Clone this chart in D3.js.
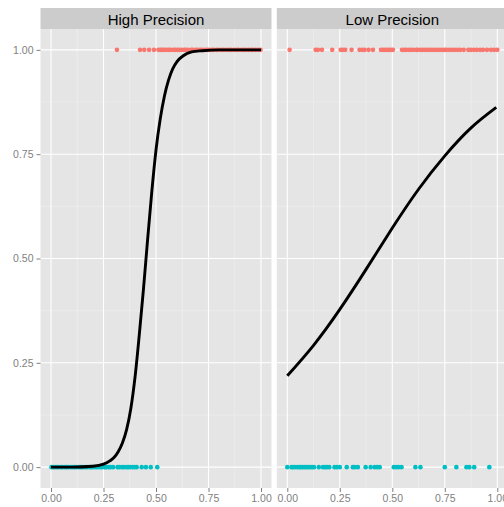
<!DOCTYPE html>
<html>
<head>
<meta charset="utf-8">
<script src="https://cdn.jsdelivr.net/npm/d3@7"></script>
<style>
  body { margin: 0; background: #fff; }
  text { font-family: "Liberation Sans", Arial, sans-serif; }
</style>
</head>
<body>
<script>
// panel names
var panels = ['High Precision', 'Low Precision']

// x positions of points with outcome 1 (red) and 0 (teal)
var highOnes = [0.314, 0.424, 0.444, 0.467, 0.490, 0.512, 0.521, 0.528, 0.537, 0.545, 0.556, 0.563, 0.571, 0.584, 0.592,
  0.603, 0.611, 0.622, 0.634, 0.641, 0.652, 0.667, 0.675, 0.688, 0.697, 0.709, 0.718, 0.731, 0.744, 0.752, 0.766,
  0.775, 0.789, 0.798, 0.812, 0.823, 0.836, 0.847, 0.858, 0.871, 0.884, 0.893, 0.907, 0.918, 0.929, 0.941, 0.953,
  0.962, 0.974, 0.986, 0.998]
var highZeros = [0.002, 0.011, 0.019, 0.028, 0.036, 0.047, 0.055, 0.066, 0.074, 0.083, 0.095, 0.104, 0.113, 0.121,
  0.133, 0.142, 0.151, 0.163, 0.172, 0.184, 0.192, 0.201, 0.213, 0.222, 0.234, 0.243, 0.255, 0.263, 0.275, 0.284,
  0.296, 0.317, 0.326, 0.338, 0.347, 0.359, 0.368, 0.377, 0.389, 0.398, 0.408, 0.432, 0.452, 0.475, 0.506]
var lowOnes = [0.011, 0.135, 0.146, 0.165, 0.214, 0.254, 0.265, 0.276, 0.306, 0.344, 0.357, 0.368, 0.387, 0.408,
  0.446, 0.456, 0.466, 0.476, 0.486, 0.496, 0.503, 0.546, 0.556, 0.566, 0.578, 0.589, 0.600, 0.614, 0.621, 0.634,
  0.645, 0.657, 0.668, 0.679, 0.690, 0.702, 0.714, 0.726, 0.738, 0.750, 0.757, 0.770, 0.784, 0.797, 0.810, 0.823,
  0.840, 0.862, 0.874, 0.889, 0.903, 0.918, 0.932, 0.951, 0.970, 0.985, 1.000]
var lowZeros = [0.000, 0.020, 0.027, 0.036, 0.048, 0.057, 0.064, 0.073, 0.082, 0.091, 0.099, 0.108, 0.118, 0.127,
  0.150, 0.170, 0.180, 0.189, 0.200, 0.225, 0.236, 0.250, 0.283, 0.312, 0.322, 0.336, 0.373, 0.397, 0.416, 0.428,
  0.440, 0.507, 0.518, 0.530, 0.544, 0.610, 0.634, 0.750, 0.805, 0.853, 0.867, 0.890, 0.962]

// fitted curves
var highCurveX = [0.00, 0.10, 0.20, 0.25, 0.28, 0.30, 0.32, 0.34, 0.36, 0.38, 0.40, 0.42, 0.44, 0.46, 0.48, 0.50,
  0.52, 0.54, 0.56, 0.58, 0.60, 0.63, 0.67, 0.72, 0.80, 1.00]
var highCurveY = [0.000, 0.000, 0.002, 0.007, 0.015, 0.023, 0.037, 0.058, 0.090, 0.140, 0.215, 0.315, 0.425, 0.545,
  0.660, 0.760, 0.834, 0.889, 0.928, 0.955, 0.972, 0.986, 0.995, 0.998, 1.000, 1.000]
var lowCurveX = [0.000, 0.125, 0.250, 0.375, 0.500, 0.625, 0.750, 0.875, 0.995]
var lowCurveY = [0.219, 0.292, 0.378, 0.474, 0.573, 0.666, 0.746, 0.813, 0.862]

var ticks = [0, 0.25, 0.5, 0.75, 1]
var minorTicks = [0.125, 0.375, 0.625, 0.875]

var width = 504, height = 507
var panelW = 231, panelTop = 29, panelBottom = 488
var panelLeft = [40.5, 276.8]

function toPoints(xs, ys) {
  return xs.map(function (x, i) { return { x: x, y: ys[i] } })
}

var panelData = [
  { ones: highOnes, zeros: highZeros, curve: toPoints(highCurveX, highCurveY), interp: d3.curveMonotoneX },
  { ones: lowOnes, zeros: lowZeros, curve: toPoints(lowCurveX, lowCurveY), interp: d3.curveNatural }
]

var svg = d3.select('body')
  .append('svg')
  .attr('width', width)
  .attr('height', height)

var xScale = d3.scaleLinear().domain([-0.05, 1.05]).range([0, panelW])
var yScale = d3.scaleLinear().domain([-0.05, 1.05]).range([panelBottom, panelTop])

panels.forEach(function (name, i) {
  var d = panelData[i]
  var g = svg.append('g')
    .attr('transform', 'translate(' + panelLeft[i] + ',0)')

  //strip
  g.append('rect')
    .attr('x', 0).attr('y', 8)
    .attr('width', panelW).attr('height', panelTop - 8)
    .attr('fill', '#cccccc')
  g.append('text')
    .attr('x', panelW / 2)
    .attr('y', 24.5)
    .attr('text-anchor', 'middle')
    .style('font-size', '15px')
    .attr('fill', '#000')
    .text(name)

  //background
  g.append('rect')
    .attr('x', 0).attr('y', panelTop)
    .attr('width', panelW).attr('height', panelBottom - panelTop)
    .attr('fill', '#e5e5e5')

  //minor grid
  g.selectAll('.minx').data(minorTicks).enter().append('line')
    .attr('x1', function (t) { return xScale(t) }).attr('x2', function (t) { return xScale(t) })
    .attr('y1', panelTop).attr('y2', panelBottom)
    .attr('stroke', '#f2f2f2').attr('stroke-width', 0.5)
  g.selectAll('.miny').data(minorTicks).enter().append('line')
    .attr('y1', function (t) { return yScale(t) }).attr('y2', function (t) { return yScale(t) })
    .attr('x1', 0).attr('x2', panelW)
    .attr('stroke', '#f2f2f2').attr('stroke-width', 0.5)

  //major grid
  g.selectAll('.majx').data(ticks).enter().append('line')
    .attr('x1', function (t) { return xScale(t) }).attr('x2', function (t) { return xScale(t) })
    .attr('y1', panelTop).attr('y2', panelBottom)
    .attr('stroke', '#fff').attr('stroke-width', 1.1)
  g.selectAll('.majy').data(ticks).enter().append('line')
    .attr('y1', function (t) { return yScale(t) }).attr('y2', function (t) { return yScale(t) })
    .attr('x1', 0).attr('x2', panelW)
    .attr('stroke', '#fff').attr('stroke-width', 1.1)

  //x axis
  var xa = g.append('g')
    .attr('transform', 'translate(0,' + panelBottom + ')')
    .call(d3.axisBottom(xScale).tickValues(ticks).tickFormat(d3.format('.2f')).tickSize(4).tickPadding(3))
  xa.select('.domain').remove()
  xa.selectAll('line').attr('stroke', '#7f7f7f')
  xa.selectAll('text').attr('fill', '#7f7f7f').style('font-size', '10.5px')

  //y axis only on first panel
  if (i == 0) {
    var ya = g.append('g')
      .call(d3.axisLeft(yScale).tickValues(ticks).tickFormat(d3.format('.2f')).tickSize(4).tickPadding(3))
    ya.select('.domain').remove()
    ya.selectAll('line').attr('stroke', '#7f7f7f')
    ya.selectAll('text').attr('fill', '#7f7f7f').style('font-size', '10.5px')
  }

  //points
  g.selectAll('.one').data(d.ones).enter().append('circle')
    .attr('cx', function (x) { return xScale(x) })
    .attr('cy', yScale(1))
    .attr('r', 2.3)
    .attr('fill', '#F8766D')
  g.selectAll('.zero').data(d.zeros).enter().append('circle')
    .attr('cx', function (x) { return xScale(x) })
    .attr('cy', yScale(0))
    .attr('r', 2.3)
    .attr('fill', '#00BFC4')

  //fitted line
  var line = d3.line()
    .x(function (p) { return xScale(p.x) })
    .y(function (p) { return yScale(p.y) })
    .curve(d.interp)
  g.append('path')
    .datum(d.curve)
    .attr('d', line)
    .attr('fill', 'none')
    .attr('stroke', '#000')
    .attr('stroke-width', 2.9)
})
</script>
</body>
</html>
